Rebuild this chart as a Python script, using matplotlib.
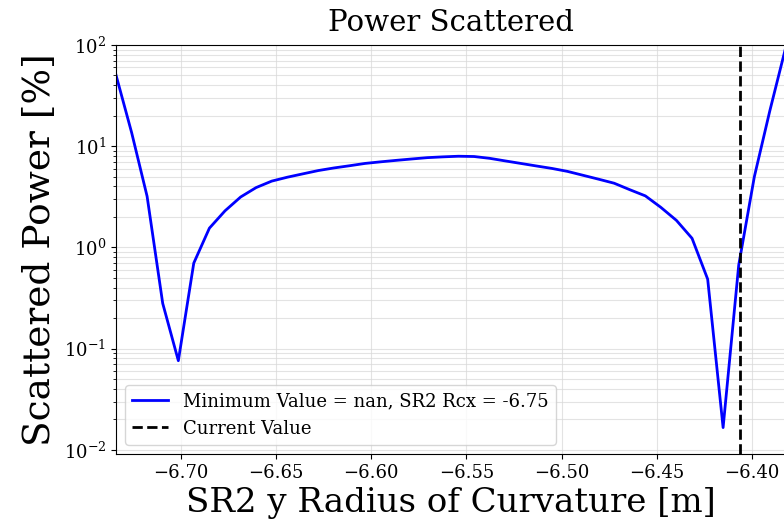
import matplotlib
matplotlib.use('Agg')
import matplotlib.pyplot as plt

plt.rcParams['font.family'] = 'DejaVu Serif'
plt.rcParams['axes.unicode_minus'] = True

# SR2 y radius of curvature scan [m]
rc_y = [-6.7339, -6.7257, -6.7176, -6.7094, -6.7012, -6.6931, -6.6849, -6.6767,
        -6.6685, -6.6604, -6.6522, -6.6440, -6.6359, -6.6277, -6.6195, -6.6114,
        -6.6032, -6.5950, -6.5868, -6.5787, -6.5705, -6.5623, -6.5542, -6.5460,
        -6.5378, -6.5297, -6.5215, -6.5133, -6.5051, -6.4970, -6.4888, -6.4806,
        -6.4725, -6.4643, -6.4561, -6.4480, -6.4398, -6.4316, -6.4234, -6.4153,
        -6.4071, -6.3989, -6.3908, -6.3826]

# scattered power [%]
scat = [50.4, 13.6, 3.2, 0.28, 0.076, 0.70, 1.55, 2.30,
        3.15, 3.9, 4.52, 4.94, 5.33, 5.75, 6.10, 6.41,
        6.76, 7.01, 7.25, 7.48, 7.71, 7.85, 7.96, 7.91,
        7.59, 7.16, 6.76, 6.38, 6.03, 5.64, 5.16, 4.72,
        4.31, 3.72, 3.23, 2.49, 1.85, 1.23, 0.486, 0.0166,
        0.67, 5.0, 22.3, 92.0]

current_rc = -6.4066
min_label = 'Minimum Value = nan, SR2 Rcx = -6.75'

fig = plt.figure(figsize=(7.84, 5.30), dpi=100)
ax = fig.add_axes([0.148, 0.1434, 1.0018 - 0.148, 0.9151 - 0.1434])

ax.plot(rc_y, scat, color='blue', lw=2, label=min_label)
ax.axvline(current_rc, color='black', ls='--', lw=2, label='Current Value')

ax.set_yscale('log')
ax.set_xlim(rc_y[0], rc_y[-1])
ax.set_ylim(0.0091, 100)

ax.grid(True, which='major', color='#d8d8d8', lw=0.8, alpha=0.7)
ax.grid(True, which='minor', axis='y', color='#d8d8d8', lw=0.8, alpha=0.7)

ax.set_title('Power Scattered', fontsize=21, pad=10)
ax.set_xlabel('SR2 y Radius of Curvature [m]', fontsize=24.5)
ax.set_ylabel('Scattered Power [%]', fontsize=27)
ax.tick_params(axis='both', which='major', labelsize=13)

ax.legend(loc='lower left', fontsize=13)

fig.savefig('out.png', dpi=100, facecolor='white')
